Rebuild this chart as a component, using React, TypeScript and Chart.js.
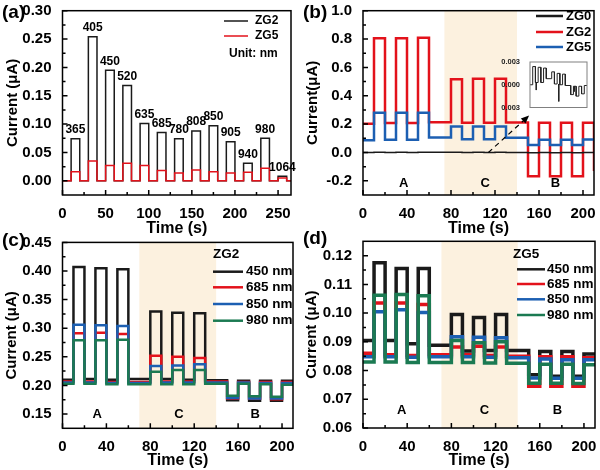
import React, { useEffect, useRef } from 'react';
import { Chart, registerables } from 'chart.js';
Chart.register(...registerables);

const FONT = "'Liberation Sans', Arial, Helvetica, sans-serif";
const BLACK = '#1a1a1a';
const RED = '#e3121b';
const BLUE = '#1c5fb2';
const GREEN = '#1b7a52';
const SHADE = '#fcf1df';

// ---------------- Panel (a) ----------------
const pulseStartA = [10, 30, 50, 70, 90, 110, 130, 150, 170, 190, 210, 230, 250];
const wavelengthA = ['365', '405', '450', '520', '635', '685', '780', '808', '850', '905', '940', '980', '1064'];
const zg2OnA = [0.074, 0.254, 0.195, 0.168, 0.101, 0.085, 0.074, 0.088, 0.097, 0.069, 0.031, 0.075, 0.008];
const zg5OnA = [0.016, 0.035, 0.027, 0.031, 0.027, 0.018, 0.014, 0.019, 0.016, 0.014, 0.015, 0.022, 0.005];
const offA = 0;
const xTicksA = [0, 50, 100, 150, 200, 250];
const yTicksA = [0, 0.05, 0.1, 0.15, 0.2, 0.25, 0.3];

// ---------------- Panel (b) ----------------
const pulseStartB = [10, 30, 50, 80, 100, 120, 150, 170, 190, 210];
const zg2OnB = [0.805, 0.805, 0.81, 0.517, 0.52, 0.52, -0.168, -0.168, -0.168, -0.13];
const zg2OffB = [0.203, 0.207, 0.207, 0.214, 0.21, 0.21, 0.212, 0.21, 0.21, 0.21];
const zg5OnB = [0.28, 0.28, 0.28, 0.184, 0.184, 0.184, 0.052, 0.052, 0.052];
const zg5OffB = [0.087, 0.09, 0.09, 0.106, 0.094, 0.094, 0.103, 0.09, 0.09, 0.092];
const zg0OnB = [0.0024, 0.0023, 0.0022, 0.0017, 0.0015, 0.0014, -0.0013, -0.0015, -0.0012];
const zg0OffB = [0.0, 0.0003, 0.0003, 0.0008, 0.0001, 0.0, -0.0001, -0.0002, -0.0002, -0.0001];
const zg0SpikeT = [23, 106, 163];
const zg0SpikeHi = [0.0003, 0.0001, -0.0002];
const zg0SpikeLo = [-0.0007, -0.0022, -0.0009];
const xTicksB = [0, 40, 80, 120, 160, 200];
const yTicksB = [-0.2, 0, 0.2, 0.4, 0.6, 0.8, 1.0];
const insetTicksB = [-0.003, 0, 0.003];

// ---------------- Panel (c) ZG2 ----------------
const pulseStartCD = [10, 30, 50, 80, 100, 120, 150, 170, 190];
const c450On = [0.407, 0.405, 0.403, 0.329, 0.327, 0.326, 0.174, 0.173, 0.173];
const c450Off = [0.21, 0.211, 0.21, 0.211, 0.211, 0.21, 0.209, 0.208, 0.208, 0.208];
const c685On = [0.291, 0.292, 0.29, 0.252, 0.25, 0.248, 0.177, 0.177, 0.176];
const c685Off = [0.207, 0.207, 0.206, 0.206, 0.207, 0.207, 0.207, 0.206, 0.206, 0.206];
const c850On = [0.306, 0.305, 0.304, 0.234, 0.235, 0.237, 0.178, 0.177, 0.177];
const c850Off = [0.205, 0.205, 0.204, 0.204, 0.205, 0.205, 0.205, 0.205, 0.204, 0.204];
const c980On = [0.279, 0.279, 0.28, 0.224, 0.227, 0.227, 0.182, 0.181, 0.18];
const c980Off = [0.203, 0.203, 0.202, 0.202, 0.202, 0.202, 0.203, 0.203, 0.202, 0.201];
const yTicksC = [0.15, 0.2, 0.25, 0.3, 0.35, 0.4, 0.45];

// ---------------- Panel (d) ZG5 ----------------
const d450On = [0.1175, 0.1155, 0.1155, 0.0995, 0.0985, 0.0995, 0.0785, 0.078, 0.078];
const d450Off = [0.0905, 0.0905, 0.0893, 0.0888, 0.0868, 0.087, 0.087, 0.0866, 0.0866, 0.0858];
const d685On = [0.1035, 0.1035, 0.103, 0.0882, 0.0885, 0.0882, 0.0745, 0.0745, 0.0745];
const d685Off = [0.086, 0.0855, 0.0852, 0.0855, 0.0855, 0.0852, 0.085, 0.0848, 0.0848, 0.0845];
const d850On = [0.1005, 0.1012, 0.1002, 0.0918, 0.0916, 0.0914, 0.0774, 0.0773, 0.0773];
const d850Off = [0.0848, 0.0848, 0.0846, 0.0848, 0.0848, 0.0846, 0.0845, 0.084, 0.0838, 0.0838];
const d980On = [0.1062, 0.1065, 0.106, 0.0905, 0.0897, 0.09, 0.0756, 0.0756, 0.0755];
const d980Off = [0.083, 0.083, 0.0828, 0.0828, 0.0828, 0.0826, 0.0825, 0.0822, 0.0822, 0.082];
const yTicksD = [0.06, 0.07, 0.08, 0.09, 0.1, 0.11, 0.12];

const regionText = ['A', 'C', 'B'];

type Pt = { x: number; y: number | null };

function stepSeries(starts: number[], on: number[], off: number | number[], width: number, tEnd: number): Pt[] {
  const lv = (i: number) => (Array.isArray(off) ? off[Math.min(i, off.length - 1)] : off);
  const pts: Pt[] = [{ x: 0, y: lv(0) }];
  for (let i = 0; i < on.length; i++) {
    const s = starts[i];
    pts.push({ x: s, y: lv(i) }, { x: s, y: on[i] });
    if (s + width >= tEnd) {
      pts.push({ x: tEnd, y: on[i] });
      return pts;
    }
    pts.push({ x: s + width, y: on[i] }, { x: s + width, y: lv(i + 1) });
  }
  pts.push({ x: tEnd, y: lv(on.length) });
  return pts;
}

function spikeSeries(t: number[], hi: number[], lo: number[]): Pt[] {
  const pts: Pt[] = [];
  t.forEach((v, i) => {
    pts.push({ x: v, y: hi[i] }, { x: v, y: lo[i] }, { x: v, y: null });
  });
  return pts;
}

type Spec = {
  xMin: number; xMax: number; yMin: number; yMax: number;
  xTicks: number[]; yTicks: number[]; yDec: number;
  pad: { left: number; top: number; right: number; bottom: number };
  yW: number; xH: number; yTitle: string; xTitle: string; yTitlePad: number;
};

function axesOptions(s: Spec): any {
  const tickFont = { family: FONT, size: 15, weight: 'bold' as const };
  return {
    animation: false,
    responsive: false,
    devicePixelRatio: 1,
    layout: { padding: s.pad },
    plugins: { legend: { display: false }, tooltip: { enabled: false } },
    elements: { point: { radius: 0 }, line: { tension: 0 } },
    scales: {
      x: {
        type: 'linear', min: s.xMin, max: s.xMax,
        grid: { display: false }, border: { display: false },
        afterBuildTicks: (sc: any) => { sc.ticks = s.xTicks.map((v) => ({ value: v })); },
        ticks: { font: tickFont, color: '#000', padding: 2, autoSkip: false, maxRotation: 0, callback: (v: any) => String(v) },
        title: { display: true, text: s.xTitle, color: '#000', font: { family: FONT, size: 16, weight: 'bold' }, padding: { top: 0, bottom: 0 } },
        afterFit: (sc: any) => { sc.height = s.xH; sc.paddingLeft = 0; sc.paddingRight = 0; },
      },
      y: {
        type: 'linear', min: s.yMin, max: s.yMax,
        grid: { display: false }, border: { display: false },
        afterBuildTicks: (sc: any) => { sc.ticks = s.yTicks.map((v) => ({ value: v })); },
        ticks: { font: tickFont, color: '#000', padding: 3, autoSkip: false, callback: (v: any) => Number(v).toFixed(s.yDec) },
        title: { display: true, text: s.yTitle, color: '#000', font: { family: FONT, size: 15, weight: 'bold' }, padding: { top: s.yTitlePad, bottom: 0 } },
        afterFit: (sc: any) => { sc.width = s.yW; sc.paddingTop = 0; sc.paddingBottom = 0; },
      },
    },
  };
}

function mids(vals: number[]): number[] {
  const out: number[] = [];
  const st = vals[1] - vals[0];
  out.push(vals[0] - st / 2);
  for (let i = 0; i < vals.length - 1; i++) out.push((vals[i] + vals[i + 1]) / 2);
  out.push(vals[vals.length - 1] + st / 2);
  return out;
}

function framePlugin(color = '#000', lw = 1.5, ticks = true) {
  return {
    id: 'frame',
    afterDatasetsDraw(chart: any) {
      const { ctx, chartArea: a, scales } = chart;
      const xs = scales.x, ys = scales.y;
      ctx.save();
      ctx.strokeStyle = color;
      ctx.lineWidth = lw;
      if (ticks) {
        ctx.beginPath();
        const xv = xs.ticks.map((t: any) => t.value);
        const yv = ys.ticks.map((t: any) => t.value);
        xv.forEach((v: number) => { const p = xs.getPixelForValue(v); ctx.moveTo(p, a.bottom); ctx.lineTo(p, a.bottom - 5); });
        mids(xv).forEach((v) => { if (v > xs.min && v < xs.max) { const p = xs.getPixelForValue(v); ctx.moveTo(p, a.bottom); ctx.lineTo(p, a.bottom - 3); } });
        yv.forEach((v: number) => { const p = ys.getPixelForValue(v); ctx.moveTo(a.left, p); ctx.lineTo(a.left + 5, p); });
        mids(yv).forEach((v) => { if (v > ys.min && v < ys.max) { const p = ys.getPixelForValue(v); ctx.moveTo(a.left, p); ctx.lineTo(a.left + 3, p); } });
        ctx.stroke();
      }
      ctx.strokeRect(a.left, a.top, a.right - a.left, a.bottom - a.top);
      ctx.restore();
    },
  };
}

function shadePlugin(t0: number, t1: number) {
  return {
    id: 'shade',
    beforeDatasetsDraw(chart: any) {
      const { ctx, chartArea: a, scales } = chart;
      const x0 = scales.x.getPixelForValue(t0), x1 = scales.x.getPixelForValue(t1);
      ctx.save();
      ctx.fillStyle = SHADE;
      ctx.fillRect(x0, a.top, x1 - x0, a.bottom - a.top);
      ctx.restore();
    },
  };
}

type LegendSpec = {
  x0: number; x1: number; tx: number; rows: number[]; size: number; lw: number;
  title?: { text: string; x: number; y: number; size: number };
  note?: { text: string; x: number; y: number; size: number };
};

function legendPlugin(l: LegendSpec) {
  return {
    id: 'customLegend',
    afterDraw(chart: any) {
      const ctx = chart.ctx;
      ctx.save();
      ctx.textBaseline = 'middle';
      ctx.textAlign = 'left';
      ctx.fillStyle = '#000';
      const items = chart.data.datasets.filter((d: any) => d.label);
      items.forEach((d: any, i: number) => {
        ctx.strokeStyle = d.borderColor;
        ctx.lineWidth = l.lw;
        ctx.beginPath();
        ctx.moveTo(l.x0, l.rows[i]);
        ctx.lineTo(l.x1, l.rows[i]);
        ctx.stroke();
        ctx.font = `bold ${l.size}px ${FONT}`;
        ctx.fillText(d.label, l.tx, l.rows[i]);
      });
      if (l.title) {
        ctx.font = `bold ${l.title.size}px ${FONT}`;
        ctx.fillText(l.title.text, l.title.x, l.title.y);
      }
      if (l.note) {
        ctx.font = `bold ${l.note.size}px ${FONT}`;
        ctx.fillText(l.note.text, l.note.x, l.note.y);
      }
      ctx.restore();
    },
  };
}

function letterPlugin(text: string, x: number, y: number) {
  return {
    id: 'letter',
    afterDraw(chart: any) {
      const ctx = chart.ctx;
      ctx.save();
      ctx.font = `bold 19px ${FONT}`;
      ctx.fillStyle = '#000';
      ctx.textAlign = 'left';
      ctx.textBaseline = 'middle';
      ctx.fillText(text, x, y);
      ctx.restore();
    },
  };
}

function regionPlugin(ts: number[], v: number) {
  return {
    id: 'regions',
    afterDatasetsDraw(chart: any) {
      const { ctx, scales } = chart;
      ctx.save();
      ctx.font = `bold 13px ${FONT}`;
      ctx.fillStyle = '#000';
      ctx.textAlign = 'center';
      ctx.textBaseline = 'middle';
      regionText.forEach((t, i) => ctx.fillText(t, scales.x.getPixelForValue(ts[i]), scales.y.getPixelForValue(v)));
      ctx.restore();
    },
  };
}

function line(label: string | undefined, data: Pt[], color: string, width: number, order: number): any {
  return { label, data, borderColor: color, backgroundColor: color, borderWidth: width, pointRadius: 0, fill: false, order, spanGaps: false };
}

// ---------------- Configs ----------------
function makeA(): any {
  const opts = axesOptions({
    xMin: 0, xMax: 265, yMin: -0.025, yMax: 0.3, xTicks: xTicksA, yTicks: yTicksA, yDec: 2,
    pad: { left: 0, top: 10.7, right: 9, bottom: 0 }, yW: 62.5, xH: 43,
    yTitle: 'Current (\u03bcA)', xTitle: 'Time (s)', yTitlePad: 4,
  });
  const labels = {
    id: 'wl',
    afterDatasetsDraw(chart: any) {
      const { ctx, scales } = chart;
      ctx.save();
      ctx.font = `bold 12px ${FONT}`;
      ctx.fillStyle = '#000';
      ctx.textAlign = 'center';
      ctx.textBaseline = 'middle';
      wavelengthA.forEach((w, i) => {
        ctx.fillText(w, scales.x.getPixelForValue(pulseStartA[i] + 5), scales.y.getPixelForValue(zg2OnA[i]) - 9);
      });
      ctx.restore();
    },
  };
  return {
    type: 'line',
    data: {
      datasets: [
        line('ZG2', stepSeries(pulseStartA, zg2OnA, offA, 10, 265), BLACK, 1.5, 1),
        line('ZG5', stepSeries(pulseStartA, zg5OnA, offA, 10, 265), RED, 1.5, 0),
      ],
    },
    options: opts,
    plugins: [framePlugin(), labels,
      legendPlugin({ x0: 224, x1: 248, tx: 255, rows: [21, 36], size: 12, lw: 1.5, note: { text: 'Unit: nm', x: 229, y: 54, size: 12 } }),
      letterPlugin('(a)', 2, 13)],
  };
}

function makeB(): any {
  const opts = axesOptions({
    xMin: 0, xMax: 210, yMin: -0.3, yMax: 1.0, xTicks: xTicksB, yTicks: yTicksB, yDec: 1,
    pad: { left: 0, top: 10.7, right: 6, bottom: 0 }, yW: 63, xH: 43,
    yTitle: 'Current(\u03bcA)', xTitle: 'Time (s)', yTitlePad: 4,
  });
  const arrow = {
    id: 'arrow',
    afterDatasetsDraw(chart: any) {
      const { ctx, scales } = chart;
      const x0 = scales.x.getPixelForValue(114), y0 = scales.y.getPixelForValue(0);
      const x1 = scales.x.getPixelForValue(151), y1 = scales.y.getPixelForValue(0.26);
      const ang = Math.atan2(y1 - y0, x1 - x0);
      ctx.save();
      ctx.strokeStyle = '#000';
      ctx.fillStyle = '#000';
      ctx.lineWidth = 1.2;
      ctx.setLineDash([5, 4]);
      ctx.beginPath();
      ctx.moveTo(x0, y0);
      ctx.lineTo(x1 - 5 * Math.cos(ang), y1 - 5 * Math.sin(ang));
      ctx.stroke();
      ctx.setLineDash([]);
      ctx.beginPath();
      ctx.moveTo(x1, y1);
      ctx.lineTo(x1 - 8 * Math.cos(ang) + 3.5 * Math.sin(ang), y1 - 8 * Math.sin(ang) - 3.5 * Math.cos(ang));
      ctx.lineTo(x1 - 8 * Math.cos(ang) - 3.5 * Math.sin(ang), y1 - 8 * Math.sin(ang) + 3.5 * Math.cos(ang));
      ctx.closePath();
      ctx.fill();
      ctx.restore();
    },
  };
  return {
    type: 'line',
    data: {
      datasets: [
        line('ZG0', stepSeries(pulseStartB, zg0OnB, zg0OffB, 10, 210), BLACK, 1.5, 0),
        line('ZG2', stepSeries(pulseStartB, zg2OnB, zg2OffB, 10, 210), RED, 2.5, 2),
        line('ZG5', stepSeries(pulseStartB, zg5OnB, zg5OffB, 10, 210), BLUE, 2.5, 1),
        line(undefined, spikeSeries(zg0SpikeT, zg0SpikeHi, zg0SpikeLo), BLACK, 1.5, 0),
      ],
    },
    options: opts,
    plugins: [shadePlugin(74, 140), framePlugin(), arrow, regionPlugin([37, 111, 175], -0.22),
      legendPlugin({ x0: 236, x1: 263, tx: 266, rows: [16, 32, 47], size: 13, lw: 2.5 }),
      letterPlugin('(b)', 3, 13)],
  };
}

function makeInset(): any {
  const tickFont = { family: FONT, size: 7.5, weight: 'bold' as const };
  return {
    type: 'line',
    data: {
      datasets: [
        line(undefined, stepSeries(pulseStartB, zg0OnB, zg0OffB, 10, 210), '#222', 1, 0),
        line(undefined, spikeSeries(zg0SpikeT, zg0SpikeHi, zg0SpikeLo), '#222', 1, 0),
      ],
    },
    options: {
      animation: false, responsive: false, devicePixelRatio: 1,
      layout: { padding: { left: 0, top: 7, right: 3, bottom: 7.5 } },
      plugins: { legend: { display: false }, tooltip: { enabled: false } },
      scales: {
        x: { type: 'linear', min: 0, max: 210, display: false },
        y: {
          type: 'linear', min: -0.003, max: 0.003,
          grid: { display: false }, border: { display: false },
          afterBuildTicks: (sc: any) => { sc.ticks = insetTicksB.map((v) => ({ value: v })); },
          ticks: { font: tickFont, color: '#222', padding: 2, autoSkip: false, callback: (v: any) => Math.abs(Number(v)).toFixed(3) },
          afterFit: (sc: any) => { sc.width = 35; sc.paddingTop = 0; sc.paddingBottom = 0; },
        },
      },
    },
    plugins: [{
      id: 'bg',
      beforeDatasetsDraw(chart: any) {
        const { ctx, chartArea: a } = chart;
        ctx.save(); ctx.fillStyle = '#fff'; ctx.fillRect(a.left, a.top, a.right - a.left, a.bottom - a.top); ctx.restore();
      },
    }, framePlugin('#808080', 1, false)],
  };
}

function makeC(): any {
  const opts = axesOptions({
    xMin: 0, xMax: 210, yMin: 0.125, yMax: 0.45, xTicks: xTicksB, yTicks: yTicksC, yDec: 2,
    pad: { left: 0, top: 14.4, right: 7, bottom: 0 }, yW: 62.5, xH: 41.7,
    yTitle: 'Current (\u03bcA)', xTitle: 'Time (s)', yTitlePad: 3,
  });
  return {
    type: 'line',
    data: {
      datasets: [
        line('450 nm', stepSeries(pulseStartCD, c450On, c450Off, 10, 210), BLACK, 2.5, 3),
        line('685 nm', stepSeries(pulseStartCD, c685On, c685Off, 10, 210), RED, 2.5, 2),
        line('850 nm', stepSeries(pulseStartCD, c850On, c850Off, 10, 210), BLUE, 2.5, 1),
        line('980 nm', stepSeries(pulseStartCD, c980On, c980Off, 10, 210), GREEN, 2.5, 0),
      ],
    },
    options: opts,
    plugins: [shadePlugin(70, 140), framePlugin(), regionPlugin([31.5, 106, 175.5], 0.15),
      legendPlugin({ x0: 213, x1: 243, tx: 246, rows: [43.7, 59.3, 76, 92.7], size: 13.5, lw: 2.5, title: { text: 'ZG2', x: 213, y: 26, size: 13.5 } }),
      letterPlugin('(c)', 2, 13)],
  };
}

function makeD(): any {
  const opts = axesOptions({
    xMin: 0, xMax: 210, yMin: 0.06, yMax: 0.125, xTicks: xTicksB, yTicks: yTicksD, yDec: 2,
    pad: { left: 0, top: 13.3, right: 5, bottom: 0 }, yW: 63, xH: 42,
    yTitle: 'Current (\u03bcA)', xTitle: 'Time (s)', yTitlePad: 3,
  });
  return {
    type: 'line',
    data: {
      datasets: [
        line('450 nm', stepSeries(pulseStartCD, d450On, d450Off, 10, 210), BLACK, 3.5, 3),
        line('685 nm', stepSeries(pulseStartCD, d685On, d685Off, 10, 210), RED, 3.5, 2),
        line('850 nm', stepSeries(pulseStartCD, d850On, d850Off, 10, 210), BLUE, 3.5, 1),
        line('980 nm', stepSeries(pulseStartCD, d980On, d980Off, 10, 210), GREEN, 3.5, 0),
      ],
    },
    options: opts,
    plugins: [shadePlugin(71, 140), framePlugin(), regionPlugin([35, 110, 176], 0.066),
      legendPlugin({ x0: 217, x1: 245, tx: 247, rows: [41.3, 56, 71.3, 87], size: 13.5, lw: 2.5, title: { text: 'ZG5', x: 213, y: 26, size: 13.5 } }),
      letterPlugin('(d)', 3, 11)],
  };
}

function ChartBox({ left, top, w, h, make }: { left: number; top: number; w: number; h: number; make: () => any }) {
  const ref = useRef<HTMLCanvasElement>(null);
  useEffect(() => {
    const chart = new Chart(ref.current as HTMLCanvasElement, make());
    return () => chart.destroy();
  }, []);
  return (
    <canvas
      ref={ref}
      width={w}
      height={h}
      style={{ position: 'absolute', left, top, width: w, height: h, display: 'block' }}
    />
  );
}

export default function App() {
  return (
    <div style={{ position: 'fixed', left: 0, top: 0, width: 600, height: 470, background: '#fff', overflow: 'hidden' }}>
      <ChartBox left={0} top={0} w={300} h={238} make={makeA} />
      <ChartBox left={300} top={0} w={300} h={238} make={makeB} />
      <ChartBox left={0} top={228} w={300} h={242} make={makeC} />
      <ChartBox left={300} top={228} w={300} h={242} make={makeD} />
      <ChartBox left={495} top={55} w={95} h={60} make={makeInset} />
    </div>
  );
}
